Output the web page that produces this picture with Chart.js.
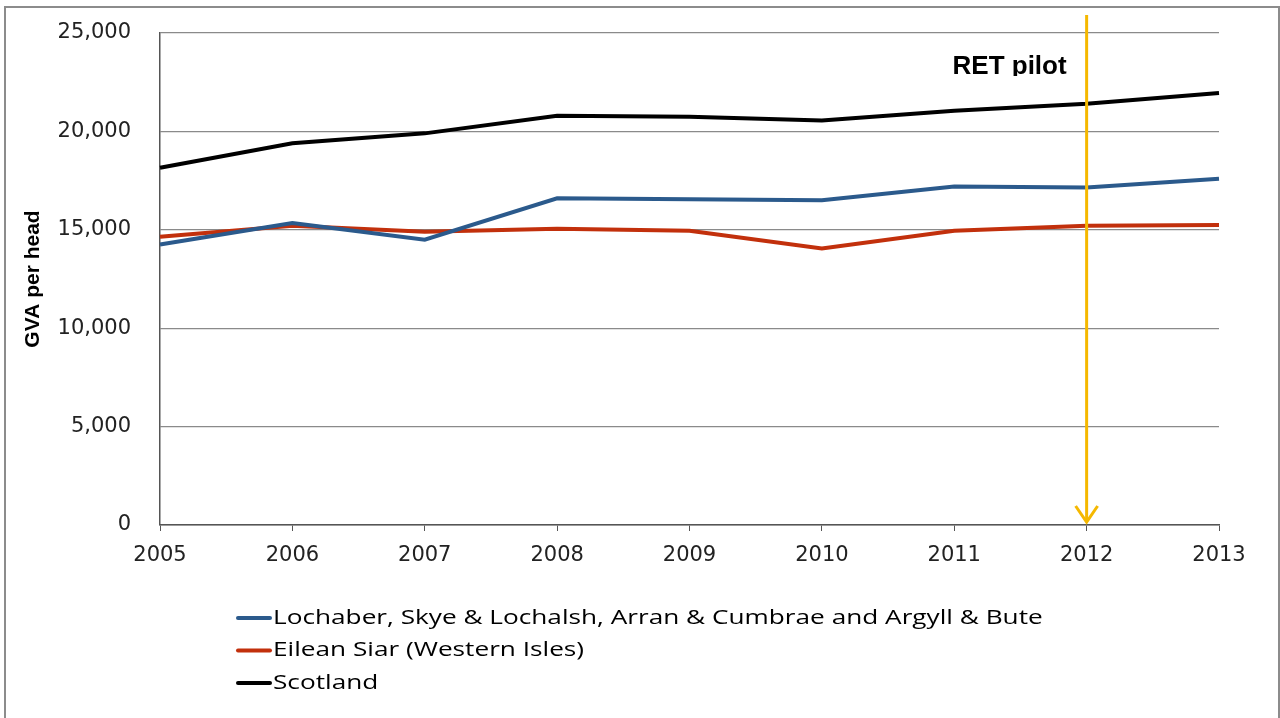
<!DOCTYPE html>
<html>
<head>
<meta charset="utf-8">
<script src="https://cdn.jsdelivr.net/npm/chart.js@4/dist/chart.umd.min.js"></script>
<style>
  html, body { margin: 0; padding: 0; background: #fff; }
  #wrap { width: 1280px; height: 718px; position: relative; }
</style>
</head>
<body>
<div id="wrap"><canvas id="gva_chart" width="1280" height="718"></canvas></div>
<script>
// values
var years = ['2005', '2006', '2007', '2008', '2009', '2010', '2011', '2012', '2013'];
var lochaber = [14250, 15350, 14500, 16600, 16550, 16500, 17200, 17150, 17600];
var eileanSiar = [14650, 15200, 14900, 15050, 14950, 14050, 14950, 15200, 15250];
var scotland = [18150, 19400, 19900, 20800, 20750, 20550, 21050, 21400, 21950];
var yTicks = [0, 5000, 10000, 15000, 20000, 25000];
var pilotYear = '2012';
var pilotLabel = 'RET pilot';

var framePlugin = {
    id: 'frame',
    afterDraw: function(chart) {
        var ctx = chart.ctx;
        ctx.save();
        ctx.strokeStyle = '#8c8c8c';
        ctx.lineWidth = 2;
        ctx.strokeRect(5, 7, 1274, 720);
        ctx.restore();
    }
};

var pilotPlugin = {
    id: 'pilot',
    afterDatasetsDraw: function(chart) {
        var ctx = chart.ctx;
        var x = chart.scales.x.getPixelForValue(years.indexOf(pilotYear));
        var bottom = chart.chartArea.bottom - 3;
        ctx.save();
        ctx.strokeStyle = '#f5b800';
        ctx.lineWidth = 3;
        ctx.beginPath();
        ctx.moveTo(x, 15);
        ctx.lineTo(x, bottom);
        ctx.stroke();
        ctx.beginPath();
        ctx.moveTo(x - 11, bottom - 16);
        ctx.lineTo(x, bottom);
        ctx.lineTo(x + 11, bottom - 16);
        ctx.stroke();
        // label, clipped at the bottom like the original text box
        ctx.beginPath();
        ctx.rect(x - 200, 40, 200, 36);
        ctx.clip();
        ctx.fillStyle = '#000';
        ctx.font = 'bold 26px "Liberation Sans", Arial, sans-serif';
        ctx.textAlign = 'right';
        ctx.textBaseline = 'alphabetic';
        ctx.fillText(pilotLabel, x - 20, 74);
        ctx.restore();
    }
};

// the original legend text is stretched sideways, so scale it
var legendPlugin = {
    id: 'stackLegend',
    afterDraw: function(chart) {
        var ctx = chart.ctx;
        ctx.save();
        ctx.font = '20px "Open Sans", sans-serif';
        ctx.textBaseline = 'middle';
        chart.data.datasets.forEach(function(ds, i) {
            var y = 618 + i * 32.5;
            ctx.strokeStyle = ds.borderColor;
            ctx.lineWidth = 4;
            ctx.lineCap = 'round';
            ctx.beginPath();
            ctx.moveTo(238, y);
            ctx.lineTo(270, y);
            ctx.stroke();
            ctx.save();
            ctx.translate(273, y);
            ctx.scale(1.31, 1);
            ctx.fillStyle = '#000';
            ctx.fillText(ds.label, 0, 0);
            ctx.restore();
        });
        ctx.restore();
    }
};

new Chart(document.getElementById('gva_chart'), {
    type: 'line',
    data: {
        labels: years,
        datasets: [
            {
                label: 'Lochaber, Skye & Lochalsh, Arran & Cumbrae and Argyll & Bute',
                data: lochaber,
                borderColor: '#2b5a8c',
                borderWidth: 4,
                pointRadius: 0,
                tension: 0
            }, {
                label: 'Eilean Siar (Western Isles)',
                data: eileanSiar,
                borderColor: '#c2300c',
                borderWidth: 4,
                pointRadius: 0,
                tension: 0
            }, {
                label: 'Scotland',
                data: scotland,
                borderColor: '#000000',
                borderWidth: 4,
                pointRadius: 0,
                tension: 0
            }
        ]
    },
    options: {
        responsive: false,
        animation: false,
        layout: {
            padding: { left: 0, top: 33, right: 61, bottom: 0 }
        },
        plugins: {
            legend: { display: false },
            tooltip: { enabled: false }
        },
        scales: {
            x: {
                offset: false,
                afterFit: function(scale) { scale.height = 193; },
                grid: {
                    drawOnChartArea: false,
                    drawTicks: true,
                    tickLength: 6,
                    color: '#555'
                },
                border: { color: '#555', width: 1.5 },
                ticks: {
                    color: '#222',
                    padding: 12,
                    maxRotation: 0,
                    font: { family: '"DejaVu Sans", sans-serif', size: 21 }
                }
            },
            y: {
                min: 0,
                max: 25000,
                afterFit: function(scale) {
                    scale.width = 160;
                    scale.paddingTop = 0;
                    scale.paddingBottom = 0;
                },
                afterBuildTicks: function(scale) {
                    scale.ticks = yTicks.map(function(v) { return { value: v }; });
                },
                grid: {
                    color: '#8a8a8a',
                    lineWidth: 1.2,
                    drawTicks: false
                },
                border: { color: '#555', width: 1.5 },
                ticks: {
                    color: '#222',
                    padding: 29,
                    font: { family: '"DejaVu Sans", sans-serif', size: 21 },
                    callback: function(v) { return v.toLocaleString('en-GB'); }
                },
                title: {
                    display: true,
                    text: 'GVA per head',
                    color: '#000',
                    padding: { top: 21, bottom: 0 },
                    font: { family: '"Liberation Sans Narrow", "Liberation Sans", sans-serif', size: 21, weight: 'bold' }
                }
            }
        }
    },
    plugins: [framePlugin, pilotPlugin, legendPlugin]
});
</script>
</body>
</html>
